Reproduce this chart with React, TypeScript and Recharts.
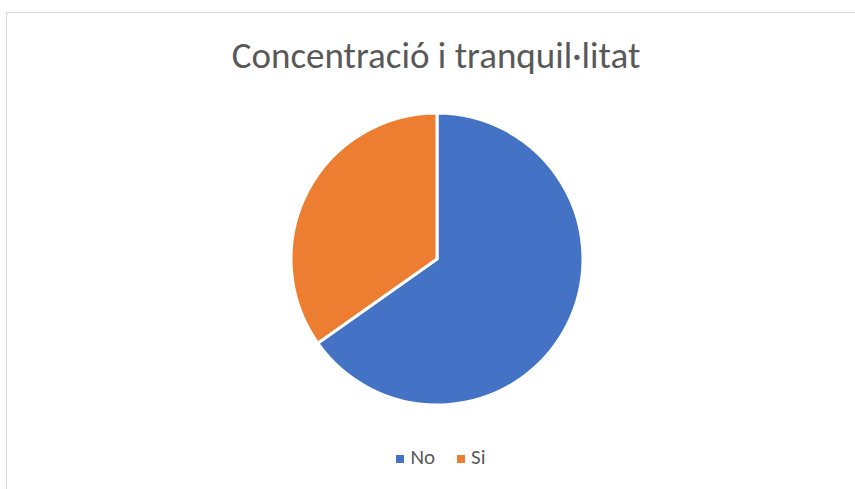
import { PieChart, Pie, Cell, Legend } from 'recharts'

const categories = ['No', 'Si']
const values = [15, 8]
const colors = ['#4472C4', '#ED7D31']

const data = categories.map((name, i) => ({ name, value: values[i] }))

const FONT = 'Carlito, Calibri, "Open Sans", sans-serif'

export default function App() {
  return (
    <div style={{ position: 'absolute', left: 0, top: 0, width: 855, height: 489, overflow: 'hidden', background: '#fff', fontFamily: FONT }}>
      {/* chart frame, runs past right and bottom edges */}
      <div style={{ position: 'absolute', left: 6, top: 12, width: 870, height: 500, border: '1px solid #d9d9d9', boxSizing: 'border-box' }} />
      <div style={{ position: 'absolute', left: 0, top: 33, width: 872, textAlign: 'center', fontSize: 37, color: '#595959', whiteSpace: 'nowrap' }}>
        Concentració i tranquil·litat
      </div>
      <div style={{ position: 'absolute', left: 0, top: 0 }}>
        <PieChart width={855} height={489} margin={{ top: 0, right: 0, bottom: 0, left: 0 }}>
          <Pie
            data={data} dataKey="value" nameKey="name"
            cx={437} cy={259} outerRadius={146} innerRadius={0}
            startAngle={90} endAngle={-270}
            stroke="#fff" strokeWidth={3}
            isAnimationActive={false}
          >
            {data.map((d, i) => <Cell key={d.name} fill={colors[i]} />)}
          </Pie>
          <Legend
            iconType="square" iconSize={8}
            wrapperStyle={{ top: 444, left: 16, width: 872, fontSize: 21 }}
            formatter={(v) => <span style={{ color: '#595959', marginLeft: 2, marginRight: 12 }}>{v}</span>}
          />
        </PieChart>
      </div>
    </div>
  )
}
